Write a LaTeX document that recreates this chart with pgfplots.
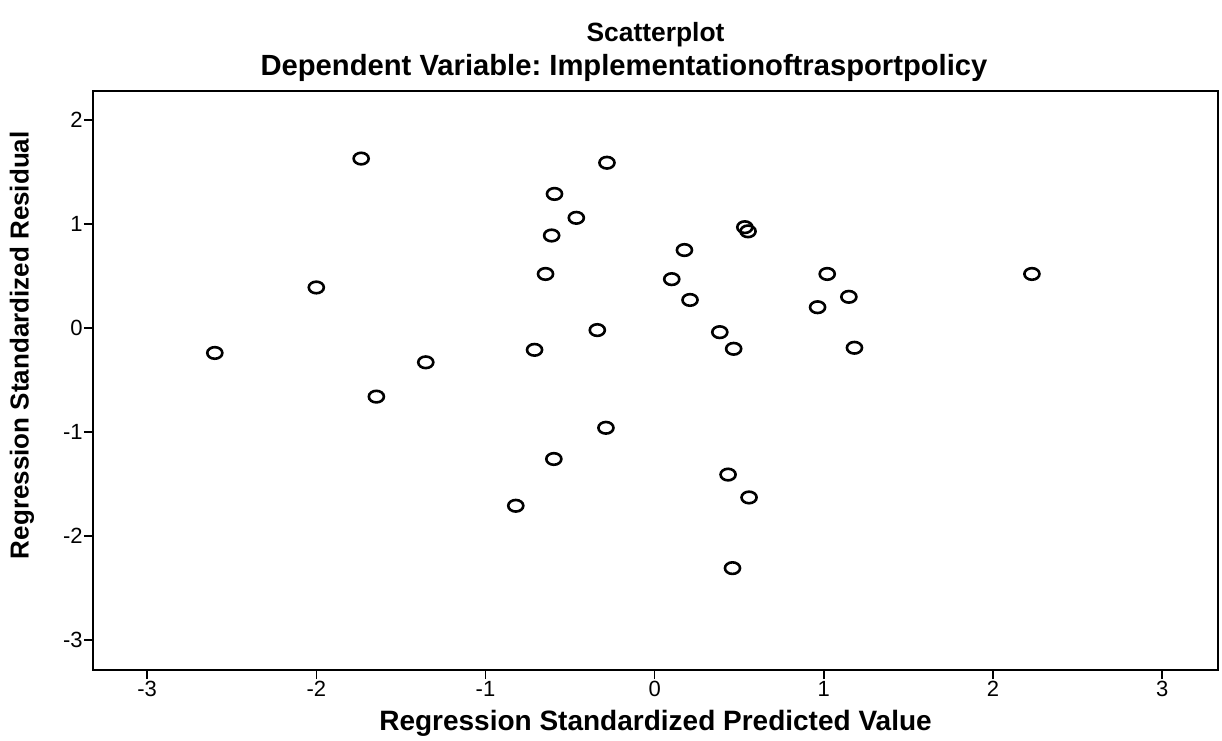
\documentclass[border=0pt]{standalone}
\usepackage{pgfplots}
\pgfplotsset{compat=1.18}
\usepackage{fontspec}
\usepackage{graphicx}
\setmainfont{Liberation Sans}
\frenchspacing
\begin{document}
\begin{tikzpicture}
\path[use as bounding box] (0,0) rectangle (611pt,370pt);
\begin{axis}[
  at={(46.5pt,35pt)}, anchor=south west,
  scale only axis, width=562.5pt, height=289.5pt,
  xmin=-3.32, xmax=3.33, ymin=-3.29, ymax=2.28,
  axis line style={line width=1pt, black},
  xtick={-3,-2,-1,0,1,2,3}, ytick={-3,-2,-1,0,1,2},
  xticklabels={-3,-2,-1,0,1,2,3}, yticklabels={-3,-2,-1,0,1,2},
  tick align=outside, xtick pos=bottom, ytick pos=left,
  major tick length=4.5pt,
  tick style={line width=0.8pt, black},
  ticklabel style={font=\fontsize{11}{13}\selectfont},
  xticklabel style={inner sep=1pt},
  yticklabel style={inner sep=0.5pt},
  xlabel={\bfseries Regression Standardized Predicted Value},
  xlabel style={at={(axis description cs:0.5,-0.092)}, anchor=center, font=\fontsize{14}{16}\selectfont},
  ylabel={\bfseries Regression Standardized Residual},
  ylabel style={at={(axis description cs:-0.0631,0.561)}, anchor=center, font=\fontsize{13}{15}\selectfont},
  clip=false,
]
\addplot[only marks, mark=o, mark size=2.9pt, mark options={xscale=1.3, line width=1.3pt, black}] coordinates {
(-2.60,-0.24) (-2.00,0.39) (-1.735,1.63) (-1.645,-0.66) (-1.353,-0.33)
(-0.821,-1.71) (-0.710,-0.21) (-0.645,0.52) (-0.609,0.89) (-0.592,1.29)
(-0.596,-1.26) (-0.463,1.06) (-0.339,-0.02) (-0.288,-0.96) (-0.282,1.59)
(0.101,0.47) (0.176,0.75) (0.209,0.27) (0.385,-0.04) (0.434,-1.41)
(0.460,-2.31) (0.467,-0.20) (0.533,0.97) (0.552,0.93) (0.558,-1.63)
(0.963,0.20) (1.020,0.52) (1.148,0.30) (1.181,-0.19) (2.23,0.52)
};
\node[font=\bfseries\fontsize{13.2}{15}\selectfont] at (axis description cs:0.5,1.097) {Scatterplot};
\node[font=\bfseries\fontsize{14.6}{17}\selectfont] at (axis description cs:0.472,1.039) {Dependent Variable: Implementationoftrasportpolicy};
\end{axis}
\end{tikzpicture}
\end{document}
